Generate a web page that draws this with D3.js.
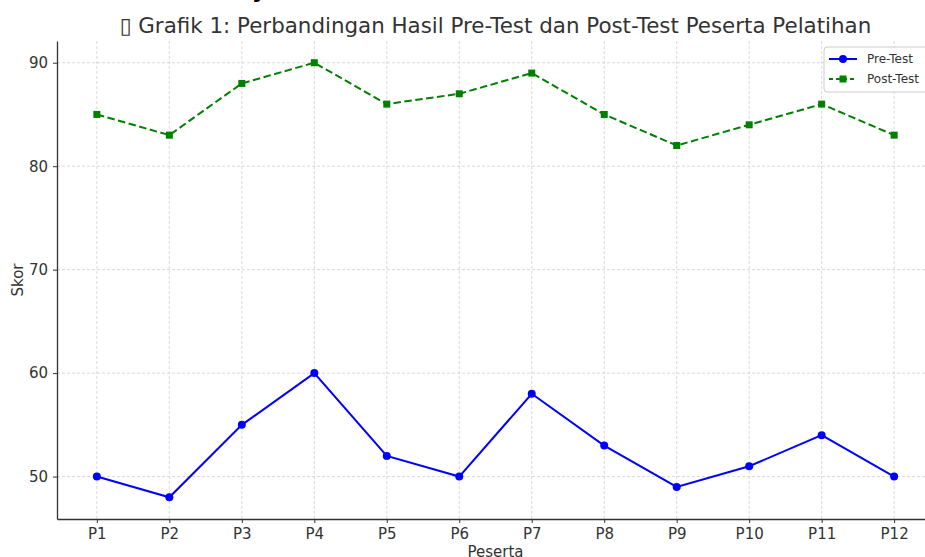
<!DOCTYPE html>
<html>
<head>
<meta charset="utf-8">
<script src="https://cdn.jsdelivr.net/npm/d3@7"></script>
<style>
  html, body { margin: 0; padding: 0; background: #fff; }
  svg { display: block; font-family: "DejaVu Sans", sans-serif; }
</style>
</head>
<body>
<svg id="chart" width="925" height="557"></svg>
<script>
// Data
const peserta = ['P1', 'P2', 'P3', 'P4', 'P5', 'P6', 'P7', 'P8', 'P9', 'P10', 'P11', 'P12'];
const preTest = [50, 48, 55, 60, 52, 50, 58, 53, 49, 51, 54, 50];
const postTest = [85, 83, 88, 90, 86, 87, 89, 85, 82, 84, 86, 83];
const yTicks = [50, 60, 70, 80, 90];

const svg = d3.select('#chart');
const textColor = '#333';

const margin = { top: 41, right: -9, bottom: 38, left: 57 };
const width = 925;
const height = 557;

// x is index based, like matplotlib's categorical axis
const x = d3.scaleLinear()
  .domain([-0.55, 11.55])
  .range([margin.left, width - margin.right]);

const y = d3.scaleLinear()
  .domain([45.9, 92.1])
  .range([height - margin.bottom, margin.top]);

// Grid
const grid = svg.append('g')
  .attr('stroke', '#d0d0d0')
  .attr('stroke-width', 0.8)
  .attr('stroke-dasharray', '3,2');

grid.selectAll('line.vx')
  .data(peserta)
  .join('line')
  .attr('x1', (d, i) => x(i))
  .attr('x2', (d, i) => x(i))
  .attr('y1', margin.top)
  .attr('y2', height - margin.bottom);

grid.selectAll('line.hy')
  .data(yTicks)
  .join('line')
  .attr('x1', margin.left)
  .attr('x2', width)
  .attr('y1', d => y(d))
  .attr('y2', d => y(d));

// Axes
function xAxis(g) {
  g.attr('transform', `translate(0,${height - margin.bottom})`)
    .call(d3.axisBottom(x)
      .tickValues(d3.range(peserta.length))
      .tickFormat(i => peserta[i])
      .tickSize(4)
      .tickPadding(5)
      .tickSizeOuter(0));
}

function yAxis(g) {
  g.attr('transform', `translate(${margin.left},0)`)
    .call(d3.axisLeft(y)
      .tickValues(yTicks)
      .tickSize(4)
      .tickPadding(5)
      .tickSizeOuter(0));
}

[xAxis, yAxis].forEach(fn => {
  const g = svg.append('g').call(fn);
  g.select('.domain').attr('stroke', textColor).attr('stroke-width', 1.3);
  g.selectAll('.tick line').attr('stroke', textColor).attr('stroke-width', 1);
  g.selectAll('.tick text')
    .attr('fill', textColor)
    .style('font-size', '15px')
    .style('font-family', '"DejaVu Sans", sans-serif');
});

// Lines
const line = d3.line()
  .x((d, i) => x(i))
  .y(d => y(d));

svg.append('path')
  .datum(postTest)
  .attr('fill', 'none')
  .attr('stroke', '#008000')
  .attr('stroke-width', 2)
  .attr('stroke-dasharray', '7.5,3.5')
  .attr('d', line);

svg.append('g')
  .attr('fill', '#008000')
  .selectAll('rect')
  .data(postTest)
  .join('rect')
  .attr('x', (d, i) => x(i) - 3.5)
  .attr('y', d => y(d) - 3.5)
  .attr('width', 7)
  .attr('height', 7);

svg.append('path')
  .datum(preTest)
  .attr('fill', 'none')
  .attr('stroke', '#0000ff')
  .attr('stroke-width', 2)
  .attr('d', line);

svg.append('g')
  .attr('fill', '#0000ff')
  .selectAll('circle')
  .data(preTest)
  .join('circle')
  .attr('cx', (d, i) => x(i))
  .attr('cy', d => y(d))
  .attr('r', 4);

// Title and labels
svg.append('text')
  .attr('x', 252)
  .attr('y', -2)
  .attr('fill', '#000')
  .style('font-size', '22px')
  .style('font-weight', 'bold')
  .text('y');

svg.append('text')
  .attr('x', (margin.left + x(11.55)) / 2)
  .attr('y', 33)
  .attr('text-anchor', 'middle')
  .attr('fill', textColor)
  .style('font-size', '21.4px')
  .text('\u25AF Grafik 1: Perbandingan Hasil Pre-Test dan Post-Test Peserta Pelatihan');

svg.append('text')
  .attr('transform', `translate(23,${(margin.top + height - margin.bottom) / 2}) rotate(-90)`)
  .attr('text-anchor', 'middle')
  .attr('fill', textColor)
  .style('font-size', '15px')
  .text('Skor');

svg.append('text')
  .attr('x', (margin.left + x(11.55)) / 2)
  .attr('y', 557)
  .attr('text-anchor', 'middle')
  .attr('fill', textColor)
  .style('font-size', '15px')
  .text('Peserta');

// Legend
const legendItems = [
  { name: 'Pre-Test', color: '#0000ff', dash: null, marker: 'circle' },
  { name: 'Post-Test', color: '#008000', dash: '4,3', marker: 'square' }
];

const legend = svg.append('g').attr('transform', 'translate(824,47)');

legend.append('rect')
  .attr('width', 110)
  .attr('height', 45)
  .attr('rx', 3)
  .attr('fill', 'rgba(255,255,255,0.8)')
  .attr('stroke', '#cccccc')
  .attr('stroke-width', 1);

legendItems.forEach((d, i) => {
  const row = legend.append('g').attr('transform', `translate(0,${12 + i * 20})`);
  row.append('line')
    .attr('x1', 5).attr('x2', 33)
    .attr('stroke', d.color)
    .attr('stroke-width', 2)
    .attr('stroke-dasharray', d.dash);
  if (d.marker === 'circle') {
    row.append('circle').attr('cx', 19).attr('r', 4).attr('fill', d.color);
  } else {
    row.append('rect').attr('x', 15.5).attr('y', -3.5).attr('width', 7).attr('height', 7).attr('fill', d.color);
  }
  row.append('text')
    .attr('x', 43)
    .attr('dy', '0.35em')
    .attr('fill', textColor)
    .style('font-size', '12px')
    .text(d.name);
});
</script>
</body>
</html>
